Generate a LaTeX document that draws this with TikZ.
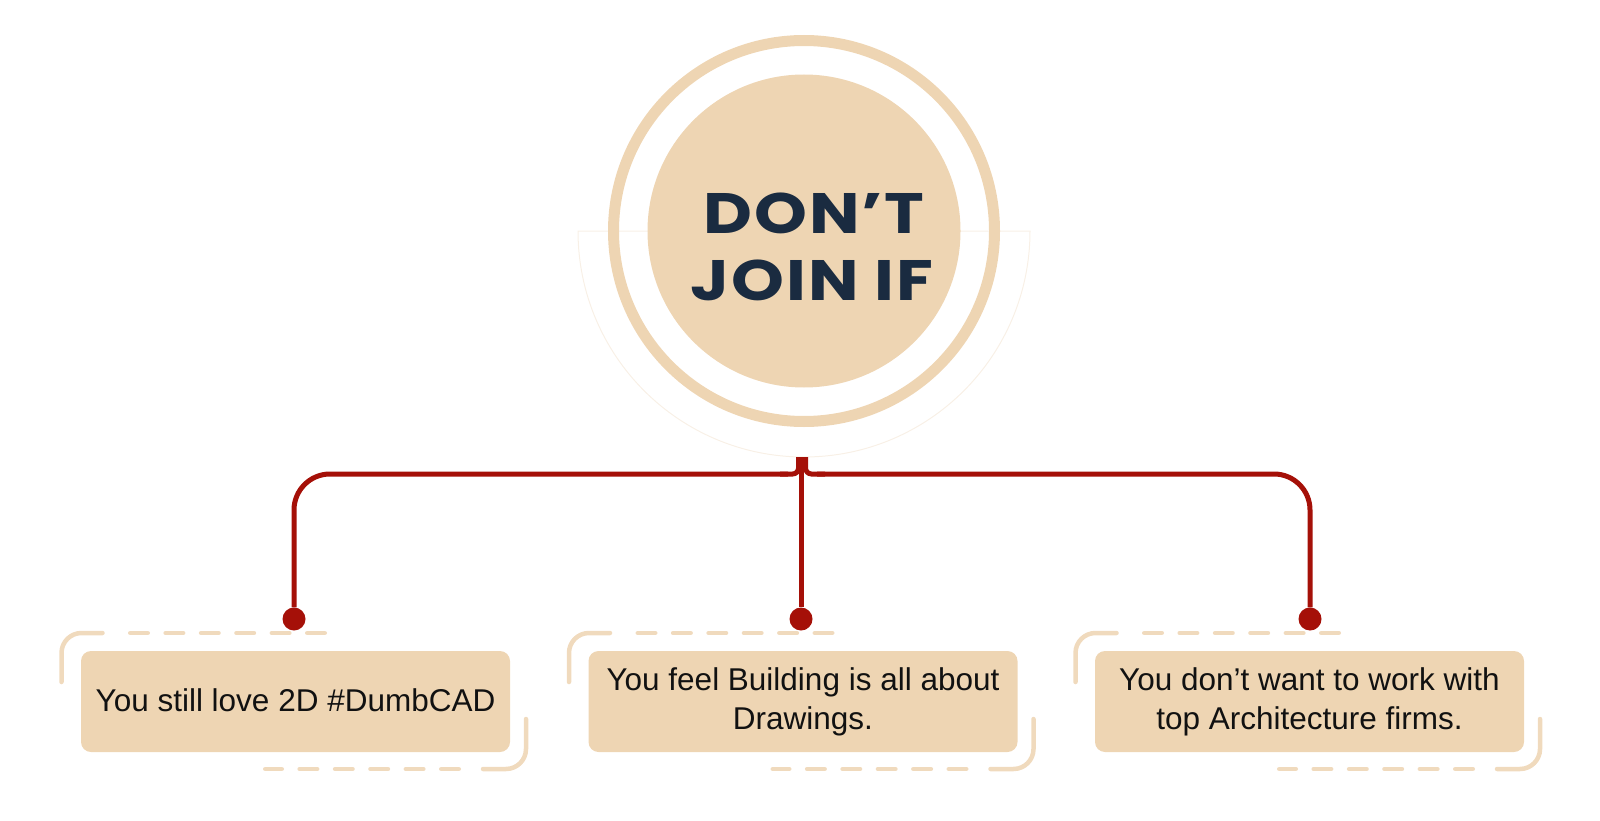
\documentclass[tikz,border=0pt]{standalone}
\usepackage{fontspec}
\setmainfont{Liberation Sans}
\newfontfamily\headfont{Poppins}[LetterSpace=3]
\definecolor{beige}{HTML}{EED5B3}
\definecolor{framec}{HTML}{F0DABD}
\definecolor{faintc}{HTML}{F8F0E6}
\definecolor{navy}{HTML}{1A2B40}
\definecolor{redc}{HTML}{A51008}
\definecolor{inkc}{HTML}{111111}
\tikzset{
  conn/.style={draw=redc, line width=5pt},
  dotnode/.style={circle, fill=redc, minimum size=23pt, inner sep=0pt},
  boxnode/.style={fill=beige, rounded corners=10pt, minimum width=429pt, minimum height=101pt,
    inner sep=0pt, align=center, text=inkc, font=\fontsize{31.5}{39}\selectfont},
  framesolid/.style={draw=framec, line width=4.5pt, line cap=round, rounded corners=20pt},
  framedash/.style={draw=framec, line width=4.5pt, line cap=round, dash pattern=on 17.5pt off 17.9pt},
  headtext/.style={font=\headfont\bfseries\fontsize{57}{67}\selectfont, text=navy, anchor=base,
    inner sep=0pt, xscale=1.18}
}
\begin{document}
\begin{tikzpicture}[x=1pt,y=-1pt]
\useasboundingbox (0,0) rectangle (1600,821);
% faint half ring
\draw[draw=faintc, line width=1pt] (578,231) arc[start angle=180, end angle=360, radius=226pt] -- cycle;
% outer ring and disk
\node[circle, draw=beige, line width=11pt, minimum size=381pt, inner sep=0pt] (ring) at (804,231) {};
\node[circle, fill=beige, minimum size=313pt, inner sep=0pt] (disk) at (804,231) {};
\node[headtext] (t1) at (814,233.5) {DON’T};
\node[headtext] (t2) at (812,300.5) {JOIN IF};
% boxes
\node[boxnode] (b1) at (295.5,701.5) {\raisebox{2pt}{You still love 2D \#DumbCAD}};
\node[boxnode] (b2) at (803,701.5) {You feel Building is all about\\Drawings.};
\node[boxnode] (b3) at (1309.5,701.5) {You don’t want to work with\\top Architecture firms.};
% dashed frames
\foreach \cx in {295.5,803,1309.5}{
  \draw[framesolid] (\cx-234,682) |- (\cx-193,633);
  \draw[framedash] (\cx-165.25,633) -- (\cx+29.25,633);
  \draw[framesolid] (\cx+230.5,719) |- (\cx+187.5,769);
  \draw[framedash] (\cx+163.25,769) -- (\cx-30.25,769);
}
% dots
\node[dotnode] (d1) at (294,619) {};
\node[dotnode] (d2) at (801,619) {};
\node[dotnode] (d3) at (1310,619) {};
% hub coordinates
\coordinate (hubL) at (798.5,457);
\coordinate (hub) at (801,457);
\coordinate (hubR) at (805.5,457);
\coordinate (busL) at (780,474);
\coordinate (busR) at (825,474);
% connectors
\draw[conn, rounded corners=6pt] (hubL) |- (busL);
\draw[conn, rounded corners=36pt] ([xshift=8pt]busL) -| (d1);
\draw[conn, rounded corners=6pt] (hubR) |- (busR);
\draw[conn, rounded corners=36pt] ([xshift=-8pt]busR) -| (d3);
\draw[conn] (hub) -- (d2);
\end{tikzpicture}
\end{document}
